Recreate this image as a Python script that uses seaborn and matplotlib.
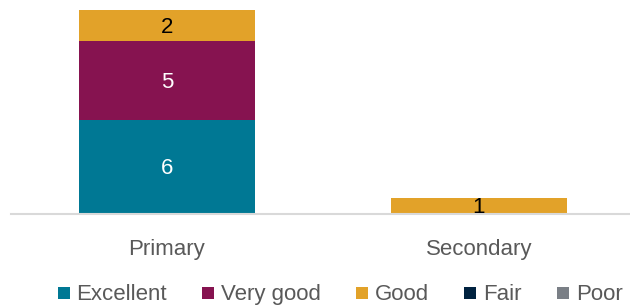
import matplotlib
matplotlib.use("Agg")
import matplotlib.pyplot as plt
from matplotlib.patches import Rectangle
import seaborn as sns
import numpy as np

categories = ["Primary", "Secondary"]
series = ["Excellent", "Very good", "Good", "Fair", "Poor"]
excellent = [6, 0]
very_good = [5, 0]
good = [2, 1]
fair = [0, 0]
poor = [0, 0]
colors = ["#007894", "#861350", "#E2A229", "#00223F", "#7A7F86"]
label_colors = ["white", "white", "black", "white", "white"]

sns.set_theme(style="white")
plt.rcParams["font.family"] = ["Liberation Sans", "DejaVu Sans"]

values = [excellent, very_good, good, fair, poor]

W, H = 630, 305
fig = plt.figure(figsize=(W / 100, H / 100), dpi=100)
ax = fig.add_axes([11/W, 1 - 213.5/H, 624/W, 203.5/H])

bottom = np.zeros(len(categories))
x = np.arange(len(categories))
for s, vals, col, lc in zip(series, values, colors, label_colors):
    vals = np.array(vals, dtype=float)
    ax.bar(x, vals, width=0.567, bottom=bottom, color=col, label=s, edgecolor="none")
    for xi, v, b in zip(x, vals, bottom):
        if v > 0:
            ax.text(xi, b + v / 2 - 0.1, f"{int(v)}", ha="center", va="center",
                    color=lc, fontsize=16)
    bottom += vals

ax.set_xlim(-0.5, 1.5)
ax.set_ylim(0, 13)
ax.set_yticks([])
ax.set_xticks(x)
ax.set_xticklabels(categories, color="#595959", fontsize=16)
ax.tick_params(axis="x", length=0, pad=18.5)
for sp in ["top", "right", "left"]:
    ax.spines[sp].set_visible(False)
ax.spines["bottom"].set_color("#D9D9D9")
ax.spines["bottom"].set_linewidth(1.5)
ax.set_zorder(1)

# legend with baseline-aligned labels
fig.canvas.draw()
renderer = fig.canvas.get_renderer()
sq, pad, gap = 12, 7, 35
baseline = 300
center = 340
texts = []
widths = []
for lab in series:
    t = fig.text(0, 1 - baseline / H, lab, fontsize=16, color="#595959",
                 ha="left", va="baseline")
    texts.append(t)
    widths.append(t.get_window_extent(renderer).width)
total = sum(sq + pad + w for w in widths) + gap * (len(series) - 1)
cx = center - total / 2
for t, w, col in zip(texts, widths, colors):
    fig.add_artist(Rectangle((cx / W, 1 - (baseline - 1) / H), sq / W, sq / H,
                             transform=fig.transFigure, facecolor=col,
                             edgecolor="none"))
    t.set_x((cx + sq + pad) / W)
    cx += sq + pad + w + gap

fig.savefig("out.png", dpi=100)
